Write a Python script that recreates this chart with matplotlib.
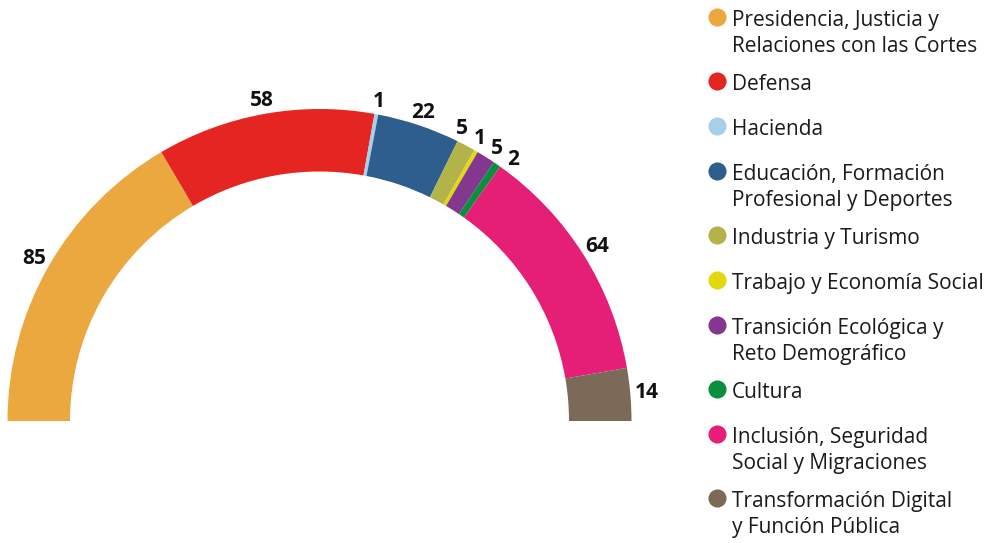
import numpy as np
import matplotlib.pyplot as plt

# ministries and seats
ministerios = [
    "Presidencia, Justicia y\nRelaciones con las Cortes",
    "Defensa",
    "Hacienda",
    "Educación, Formación\nProfesional y Deportes",
    "Industria y Turismo",
    "Trabajo y Economía Social",
    "Transición Ecológica y\nReto Demográfico",
    "Cultura",
    "Inclusión, Seguridad\nSocial y Migraciones",
    "Transformación Digital\ny Función Pública",
]
valores = [85, 58, 1, 22, 5, 1, 5, 2, 64, 14]
colores = ["#EBA83F", "#E42522", "#A7CFE8", "#2E5E8E", "#B3B34A",
           "#E2D90B", "#84378E", "#0A8F3C", "#E61F76", "#7C6A58"]

plt.rcParams['font.family'] = ['Open Sans', 'DejaVu Sans']

W, H = 995, 543
fig = plt.figure(figsize=(W / 100, H / 100), dpi=100)
ax = fig.add_axes([0, 0, 1, 1])

cx, cy = 319.5, H - 421
R, ancho = 312, 62.5
total = sum(valores)

# half donut: hidden wedge takes the bottom half
ax.pie(valores + [total], colors=colores + ["none"], startangle=180,
       counterclock=False, radius=R, center=(cx, cy),
       wedgeprops=dict(width=ancho, linewidth=0))

# label angles (degrees, 180 -> 0) with simple spreading for tiny slices
acum = np.cumsum([0] + valores)
medios = [180 - 180 * (acum[i] + acum[i + 1]) / 2 / total for i in range(len(valores))]
ang = list(medios)
min_sep = 3.5
for _ in range(200):
    moved = False
    for i in range(len(ang) - 1):
        d = ang[i] - ang[i + 1]
        if d < min_sep - 1e-6:
            shift = (min_sep - d) / 2
            ang[i] += shift
            ang[i + 1] -= shift
            moved = True
    if not moved:
        break

for v, a in zip(valores, ang):
    t = np.radians(a)
    hw = 6 * len(str(v))   # half width of label box, px
    hh = 8.5
    r_lab = R + 5 + np.hypot(hw * np.cos(t), hh * np.sin(t))
    ax.text(cx + r_lab * np.cos(t), cy + r_lab * np.sin(t), str(v),
            ha='center', va='center', fontsize=15, fontweight='bold', color='#111111')

# legend
y = H - 17
for nombre, c in zip(ministerios, colores):
    ax.scatter([717], [y], s=170, color=c, linewidths=0)
    ax.text(732, y + 7, nombre, ha='left', va='top', fontsize=15,
            color='#1a1a1a', linespacing=1.33)
    y -= 45 + 19 * nombre.count('\n')

ax.set_xlim(0, W)
ax.set_ylim(0, H)
ax.set_aspect('equal')
ax.axis('off')

fig.savefig("out.png", dpi=100)
